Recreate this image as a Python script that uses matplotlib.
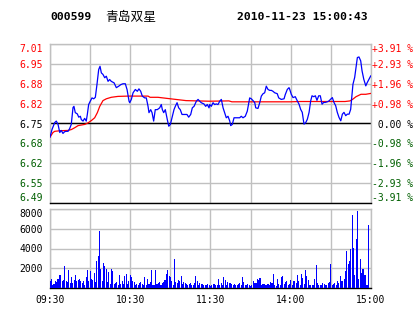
import matplotlib
matplotlib.use("Agg")
from matplotlib import pyplot as plt
import numpy as np

# header
code = "000599"
name = "青岛双星"
stamp = "2010-11-23 15:00:43"

prev_close = 6.75
max_pct = 3.911

# price line (minute index from 09:30, price)
px_minute = [0, 1.5, 3.5, 4.7, 6, 7.3, 8.4, 9.7, 11, 12.2, 13.5, 14.7, 15.9, 17.2, 17.9, 18.9,
             20.4, 21.5, 22.7, 23.4, 24.7, 25.9, 27.1, 27.9, 28.9, 30.1, 31.4, 32.7, 33.9, 35.1,
             36.4, 37.4, 38.4, 39.6, 40.9, 42.1, 43.4, 44.6, 45.8, 47.9, 49.6, 51.4, 52.9, 54.6,
             56.3, 57.6, 59.1, 59.6, 60.8, 62.1, 63.8, 65.3, 66.5, 67.8, 69, 70.8, 72, 73.3, 74,
             75.3, 76.3, 77.5, 78.7, 80.2, 82, 83.2, 84, 85, 86.2, 87.7, 88.8, 90, 91.2, 92.7,
             93.7, 95, 96.2, 97.4, 98.7, 100.7, 102.4, 103.7, 105.2, 106.4, 107.7, 109.4, 110.7,
             111.9, 113.1, 115.1, 116.4, 117.6, 118.9, 119.4, 120.6, 121.9, 123.1, 124.3, 125.6,
             126.9, 128.1, 129.4, 130.6, 131.8, 133.1, 134.4, 135.1, 136.3, 137.6, 139.3, 141.8,
             143, 144.3, 146, 147.5, 148.6, 149.3, 150.5, 151.8, 153.1, 153.8, 155.5, 156.8, 158,
             159.3, 160.5, 161.7, 163, 164.3, 165.5, 166.7, 168, 169.9, 171, 172.9, 175, 175.9,
             177.4, 178.7, 179.2, 180.4, 181.7, 183.4, 184.9, 186.2, 187.4, 188.6, 189.9, 191.2,
             192.4, 193.7, 194.9, 195.9, 197.2, 198.4, 199.6, 200.9, 202.1, 203.4, 204.6, 205.8,
             207.3, 208.6, 209.9, 211.1, 212.3, 213.6, 214.8, 216.1, 217.4, 218.6, 219.8, 221.1,
             222.3, 223.6, 224.8, 225.6, 226.5, 227.8, 229, 229.8, 231, 232.3, 233.3, 234.6,
             236.1, 237.2, 238.5, 239.8]
px_price = [6.705, 6.730, 6.753, 6.758, 6.747, 6.720, 6.727, 6.717, 6.723, 6.724, 6.724, 6.733,
            6.747, 6.803, 6.807, 6.786, 6.782, 6.771, 6.774, 6.763, 6.758, 6.767, 6.758, 6.780,
            6.813, 6.824, 6.835, 6.832, 6.837, 6.879, 6.929, 6.940, 6.918, 6.913, 6.902, 6.907,
            6.890, 6.896, 6.890, 6.885, 6.869, 6.874, 6.879, 6.882, 6.882, 6.863, 6.824, 6.819,
            6.830, 6.852, 6.863, 6.857, 6.865, 6.857, 6.841, 6.835, 6.835, 6.807, 6.786, 6.796,
            6.786, 6.758, 6.796, 6.796, 6.802, 6.813, 6.796, 6.786, 6.796, 6.763, 6.741, 6.747,
            6.769, 6.796, 6.807, 6.819, 6.802, 6.796, 6.780, 6.780, 6.780, 6.771, 6.780, 6.802,
            6.807, 6.824, 6.830, 6.824, 6.819, 6.815, 6.807, 6.813, 6.802, 6.813, 6.807, 6.819,
            6.813, 6.815, 6.813, 6.824, 6.830, 6.802, 6.786, 6.769, 6.774, 6.758, 6.743, 6.747,
            6.769, 6.769, 6.769, 6.774, 6.769, 6.774, 6.791, 6.819, 6.835, 6.832, 6.826, 6.819,
            6.802, 6.800, 6.819, 6.841, 6.849, 6.852, 6.874, 6.863, 6.860, 6.860, 6.857, 6.852,
            6.849, 6.835, 6.830, 6.832, 6.846, 6.863, 6.869, 6.864, 6.847, 6.836, 6.839, 6.825,
            6.814, 6.797, 6.787, 6.748, 6.753, 6.764, 6.787, 6.825, 6.842, 6.839, 6.842, 6.827,
            6.842, 6.842, 6.814, 6.820, 6.820, 6.822, 6.825, 6.831, 6.836, 6.820, 6.809, 6.787,
            6.770, 6.759, 6.781, 6.787, 6.776, 6.781, 6.781, 6.797, 6.836, 6.880, 6.903, 6.942,
            6.969, 6.971, 6.958, 6.925, 6.897, 6.875, 6.886, 6.897, 6.908]

# average price line
avg_minute = [0, 2.2, 3.5, 7.5, 13.5, 16, 18.5, 21, 26, 28.4, 31, 33.4, 35.4, 37.2, 39.6, 42.1,
              45.8, 50.8, 58.3, 73.3, 74.8, 80.7, 88.2, 101.7, 118.9, 133.8, 136, 179.4, 187,
              220.6, 224.3, 226.5, 228.8, 232.5, 236.1, 240]
avg_price = [6.705, 6.720, 6.724, 6.726, 6.727, 6.730, 6.736, 6.743, 6.747, 6.752, 6.760, 6.769,
             6.786, 6.807, 6.826, 6.832, 6.837, 6.840, 6.841, 6.841, 6.837, 6.837, 6.833, 6.826,
             6.824, 6.825, 6.822, 6.822, 6.823, 6.823, 6.825, 6.831, 6.839, 6.847, 6.847, 6.850]

# volume per minute, morning (09:30-11:30) and afternoon (13:01-15:00)
vol_am = [670, 940, 340, 400, 740, 610, 940, 1280, 1350, 740,
          840, 2260, 670, 610, 1850, 510, 1080, 510, 840,
          1350, 740, 840, 940, 670, 510, 740, 270, 1080,
          1850, 670, 1690, 940, 840, 1520, 610, 2760, 3200, 5730,
          1950, 740, 2530, 2190, 1950, 610, 1580, 400, 1950, 1690,
          400, 510, 610, 270, 1350, 400, 740, 400, 1250, 1420,
          400, 670, 1350, 1080, 670, 610, 270, 400, 340, 510,
          570, 400, 340, 1080, 340, 940, 400, 610, 1850, 340,
          340, 1850, 400, 510, 610, 340, 510, 610, 840, 1420,
          1850, 1180, 1080, 670, 340, 2970, 610, 510, 840, 670,
          1180, 400, 610, 510, 400, 340, 400, 470, 340, 270,
          470, 1250, 740, 270, 470, 400, 400, 340, 270, 340, 400]
vol_pm = [340, 170, 340, 400, 400, 270,
          340, 940, 270, 510, 270, 1150, 840, 340, 570, 470,
          470, 400, 270, 440, 340, 270, 400, 540, 270, 1150,
          610, 340, 340, 400, 270, 240, 340, 740, 540, 510,
          940, 840, 1010, 340, 400, 400, 270, 340, 400, 340,
          610, 510, 1450, 340, 240, 940, 400, 270, 1080, 1250,
          400, 610, 670, 340, 400, 810, 270, 740, 670, 510,
          1350, 670, 340, 1420, 1010, 400, 1850, 1180, 840, 340,
          270, 340, 340, 940, 2360, 510, 340, 340, 270, 510,
          400, 270, 340, 510, 610, 2430, 270, 400, 510, 340,
          670, 510, 1210, 740, 740, 940, 1750, 3710, 2430, 2760,
          3980, 7410, 4040, 1350, 4990, 7820, 940, 2970, 1520, 1920,
          1350, 1350, 340, 6340]

price_ticks = ["6.49", "6.55", "6.62", "6.68", "6.75", "6.82", "6.88", "6.95", "7.01"]
pct_ticks = ["-3.91 %", "-2.93 %", "-1.96 %", "-0.98 %", " 0.00 %",
             "+0.98 %", "+1.96 %", "+2.93 %", "+3.91 %"]
vol_ticks = [2000, 4000, 6000, 8000]
time_labels = ["09:30", "", "10:30", "", "11:30", "", "14:00", "", "15:00"]

RED = "#ff0000"
GREEN = "#005f00"
GRID = "#c0c0c0"
MONO = "DejaVu Sans Mono"


def main():
    plt.rcParams['font.family'] = [MONO, 'Noto Sans CJK SC']
    W, H = 414, 314
    fig = plt.figure(figsize=(W / 100, H / 100), dpi=100)

    def box(l, t, r, b):
        return [l / W, 1 - b / H, (r - l) / W, (b - t) / H]

    ax = fig.add_axes(box(50, 44, 371, 203))
    axv = fig.add_axes(box(50, 209, 371, 288))

    half = prev_close * max_pct / 100
    levels = prev_close + np.linspace(-half, half, 9)
    colors = [GREEN] * 4 + ["black"] + [RED] * 4

    for a in (ax, axv):
        a.set_xlim(0, 240)
        a.set_xticks(np.arange(0, 241, 30))
        a.grid(True, color=GRID, linewidth=1.0)
        a.set_axisbelow(True)
        for s in a.spines.values():
            s.set_color(GRID)
            s.set_linewidth(1.0)
        a.spines['bottom'].set_color('black')
        a.tick_params(length=0)

    ax.set_ylim(levels[0], levels[-1])
    ax.set_yticks(levels)
    ax.set_yticklabels(price_ticks, fontsize=7)
    for lbl, c in zip(ax.get_yticklabels(), colors):
        lbl.set_color(c)
    ax.get_yticklabels()[0].set_va('bottom')
    ax.get_yticklabels()[-1].set_va('top')
    ax.tick_params(axis='y', pad=5)
    ax.set_xticklabels([])
    ax.axhline(prev_close, color='black', linewidth=1.0, zorder=2)

    ax2 = ax.twinx()
    ax2.set_ylim(levels[0], levels[-1])
    ax2.set_yticks(levels)
    ax2.set_yticklabels(pct_ticks, fontsize=7)
    for lbl, c in zip(ax2.get_yticklabels(), colors):
        lbl.set_color(c)
    ax2.get_yticklabels()[0].set_va('bottom')
    ax2.get_yticklabels()[-1].set_va('top')
    ax2.tick_params(length=0, pad=1)
    for s in ax2.spines.values():
        s.set_visible(False)

    ax.plot(avg_minute, avg_price, color=RED, linewidth=0.9, zorder=3)
    ax.plot(px_minute, px_price, color='#0000ff', linewidth=0.9, zorder=4)

    vol = vol_am + vol_pm
    axv.bar(np.arange(len(vol)), vol, width=0.8, color='#0000ff', linewidth=0,
            antialiased=False, zorder=3)
    axv.set_ylim(0, 8000)
    axv.set_yticks([0] + vol_ticks)
    axv.set_yticklabels([""] + [str(v) for v in vol_ticks], fontsize=7)
    axv.get_yticklabels()[-1].set_va('top')
    axv.tick_params(axis='y', pad=5)
    axv.set_xticklabels(time_labels, fontsize=7)
    axv.tick_params(axis='x', pad=5)

    fig.text(50 / W, 1 - 17 / H, code, fontsize=8.2, fontweight='bold',
             family=MONO, va='center', ha='left')
    fig.text(105 / W, 1 - 17 / H, name, fontsize=9.2,
             family=['Noto Sans CJK SC'], va='center', ha='left')
    fig.text(237.5 / W, 1 - 17 / H, stamp, fontsize=8.2, fontweight='bold',
             family=MONO, va='center', ha='left')

    fig.savefig('out.png', dpi=100)


if __name__ == '__main__':
    main()
